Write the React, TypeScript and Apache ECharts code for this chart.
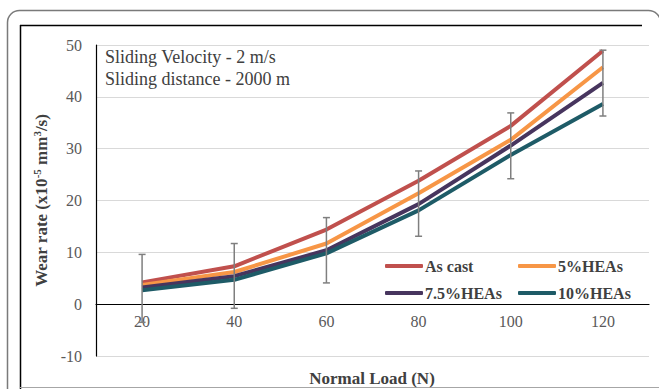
import React, { useEffect, useRef } from "react";
import * as echarts from "echarts";

const loads = ["20", "40", "60", "80", "100", "120"];
const seriesNames = ["As cast", "5%HEAs", "7.5%HEAs", "10%HEAs"];
const asCast = [4.2, 7.3, 14.4, 23.8, 34.4, 48.9];
const hea5 = [3.7, 6.2, 11.7, 21.4, 31.7, 45.7];
const hea75 = [3.2, 5.4, 10.4, 19.3, 30.6, 42.7];
const hea10 = [2.7, 4.7, 9.8, 18.1, 28.8, 38.6];
const errLow = [-3.5, -0.8, 4.1, 13.1, 24.2, 36.3];
const errHigh = [9.6, 11.7, 16.7, 25.7, 36.9, 49.0];
const yMin = -10;
const yMax = 50;
const yStep = 10;
const annotation = ["Sliding Velocity - 2 m/s", "Sliding distance - 2000 m"];
const xName = "Normal Load (N)";

const colors = ["#C0504D", "#F79646", "#47355E", "#1E5B67"];
const FONT = "Liberation Serif";

const GRID_TOP = 45;
const GRID_BOTTOM = 33;
const CHART_H = 389;

export default function App() {
  const ref = useRef<HTMLDivElement>(null);
  useEffect(() => {
    if (!ref.current) return;
    const chart = echarts.init(ref.current, null, { renderer: "svg" });
    const values = [asCast, hea5, hea75, hea10];
    const plotH = CHART_H - GRID_TOP - GRID_BOTTOM;
    const zeroOffset = -(plotH * (0 - yMin)) / (yMax - yMin);
    const lineSeries = seriesNames.map((n, i) => ({
      name: n,
      type: "line",
      data: values[i],
      symbol: "none",
      z: 3,
      lineStyle: { color: colors[i], width: 4 },
      itemStyle: { color: colors[i] },
    }));
    chart.setOption({
      animation: false,
      textStyle: { fontFamily: FONT },
      grid: { left: 96, right: 10, top: GRID_TOP, bottom: GRID_BOTTOM },
      xAxis: {
        type: "category",
        data: loads,
        boundaryGap: true,
        offset: zeroOffset,
        axisLine: { onZero: false, lineStyle: { color: "#000", width: 1.2 } },
        axisTick: { show: false },
        axisLabel: { color: "#595959", fontSize: 16, fontFamily: FONT, margin: 9 },
        splitLine: { show: false },
      },
      yAxis: {
        type: "value",
        min: yMin,
        max: yMax,
        interval: yStep,
        axisLine: { show: true, lineStyle: { color: "#000", width: 1.2 } },
        axisTick: { show: false },
        axisLabel: { color: "#595959", fontSize: 16, fontFamily: FONT, margin: 14 },
        splitLine: { lineStyle: { color: "#D9D9D9", width: 1 } },
        name: "{b|Wear rate (x10}{sup|-5}{b| mm}{sup|3}{b|/s)}",
        nameLocation: "middle",
        nameRotate: 90,
        nameGap: 44,
        nameTextStyle: {
          rich: {
            b: { fontFamily: FONT, fontWeight: "bold", fontSize: 17, color: "#404040" },
            sup: { fontFamily: FONT, fontWeight: "bold", fontSize: 11, color: "#404040", padding: [0, 0, 9, 0] },
          },
        },
      },
      legend: [
        {
          data: [seriesNames[0], seriesNames[2]],
          orient: "vertical",
          left: 380,
          top: 253,
          itemWidth: 38,
          itemHeight: 4,
          itemGap: 11,
          icon: "roundRect",
          textStyle: { fontFamily: FONT, fontWeight: "bold", fontSize: 16, color: "#404040", padding: [0, 0, 0, -3] },
        },
        {
          data: [seriesNames[1], seriesNames[3]],
          orient: "vertical",
          left: 513,
          top: 253,
          itemWidth: 38,
          itemHeight: 4,
          itemGap: 11,
          icon: "roundRect",
          textStyle: { fontFamily: FONT, fontWeight: "bold", fontSize: 16, color: "#404040", padding: [0, 0, 0, -3] },
        },
      ],
      graphic: [
        {
          type: "rect",
          silent: true,
          shape: { x: 7.5, y: 10.5, width: 653, height: 420, r: 12 },
          style: { fill: "none", stroke: "#7a7a7a", lineWidth: 1.5 },
        },
        {
          type: "line",
          silent: true,
          shape: { x1: 20, y1: 25.5, x2: 642, y2: 25.5 },
          style: { stroke: "#000", lineWidth: 1.5 },
        },
        {
          type: "line",
          silent: true,
          shape: { x1: 20.5, y1: 25, x2: 20.5, y2: 389 },
          style: { stroke: "#000", lineWidth: 1.5 },
        },
        {
          type: "line",
          silent: true,
          shape: { x1: 20, y1: 387.5, x2: 659, y2: 387.5 },
          style: { stroke: "#A6A6A6", lineWidth: 1 },
        },
        {
          type: "text",
          silent: true,
          left: 105,
          top: 48,
          style: { text: annotation[0], fontFamily: FONT, fontSize: 18, fill: "#404040" },
        },
        {
          type: "text",
          silent: true,
          left: 105,
          top: 70,
          style: { text: annotation[1], fontFamily: FONT, fontSize: 18, fill: "#404040" },
        },
        {
          type: "text",
          silent: true,
          x: 372,
          y: 378,
          style: {
            text: xName,
            fontFamily: FONT,
            fontWeight: "bold",
            fontSize: 17,
            fill: "#404040",
            align: "center",
            verticalAlign: "middle",
          },
        },
      ],
      series: [
        {
          type: "custom",
          z: 4,
          data: loads.map((_, i) => [i, errLow[i], errHigh[i]]),
          encode: { x: 0, y: [1, 2] },
          renderItem: (params: any, api: any) => {
            const i = api.value(0);
            const lo = api.coord([i, api.value(1)]);
            const hi = api.coord([i, api.value(2)]);
            const w = 3.5;
            const st = { stroke: "#7F7F7F", lineWidth: 1.5 };
            return {
              type: "group",
              children: [
                { type: "line", shape: { x1: lo[0], y1: lo[1], x2: hi[0], y2: hi[1] }, style: st },
                { type: "line", shape: { x1: hi[0] - w, y1: hi[1], x2: hi[0] + w, y2: hi[1] }, style: st },
                { type: "line", shape: { x1: lo[0] - w, y1: lo[1], x2: lo[0] + w, y2: lo[1] }, style: st },
              ],
            };
          },
        },
        ...lineSeries,
      ],
    });
    return () => chart.dispose();
  }, []);
  return (
    <div
      ref={ref}
      style={{ position: "absolute", left: 0, top: 0, width: 659, height: 389, background: "#fff" }}
    />
  );
}
